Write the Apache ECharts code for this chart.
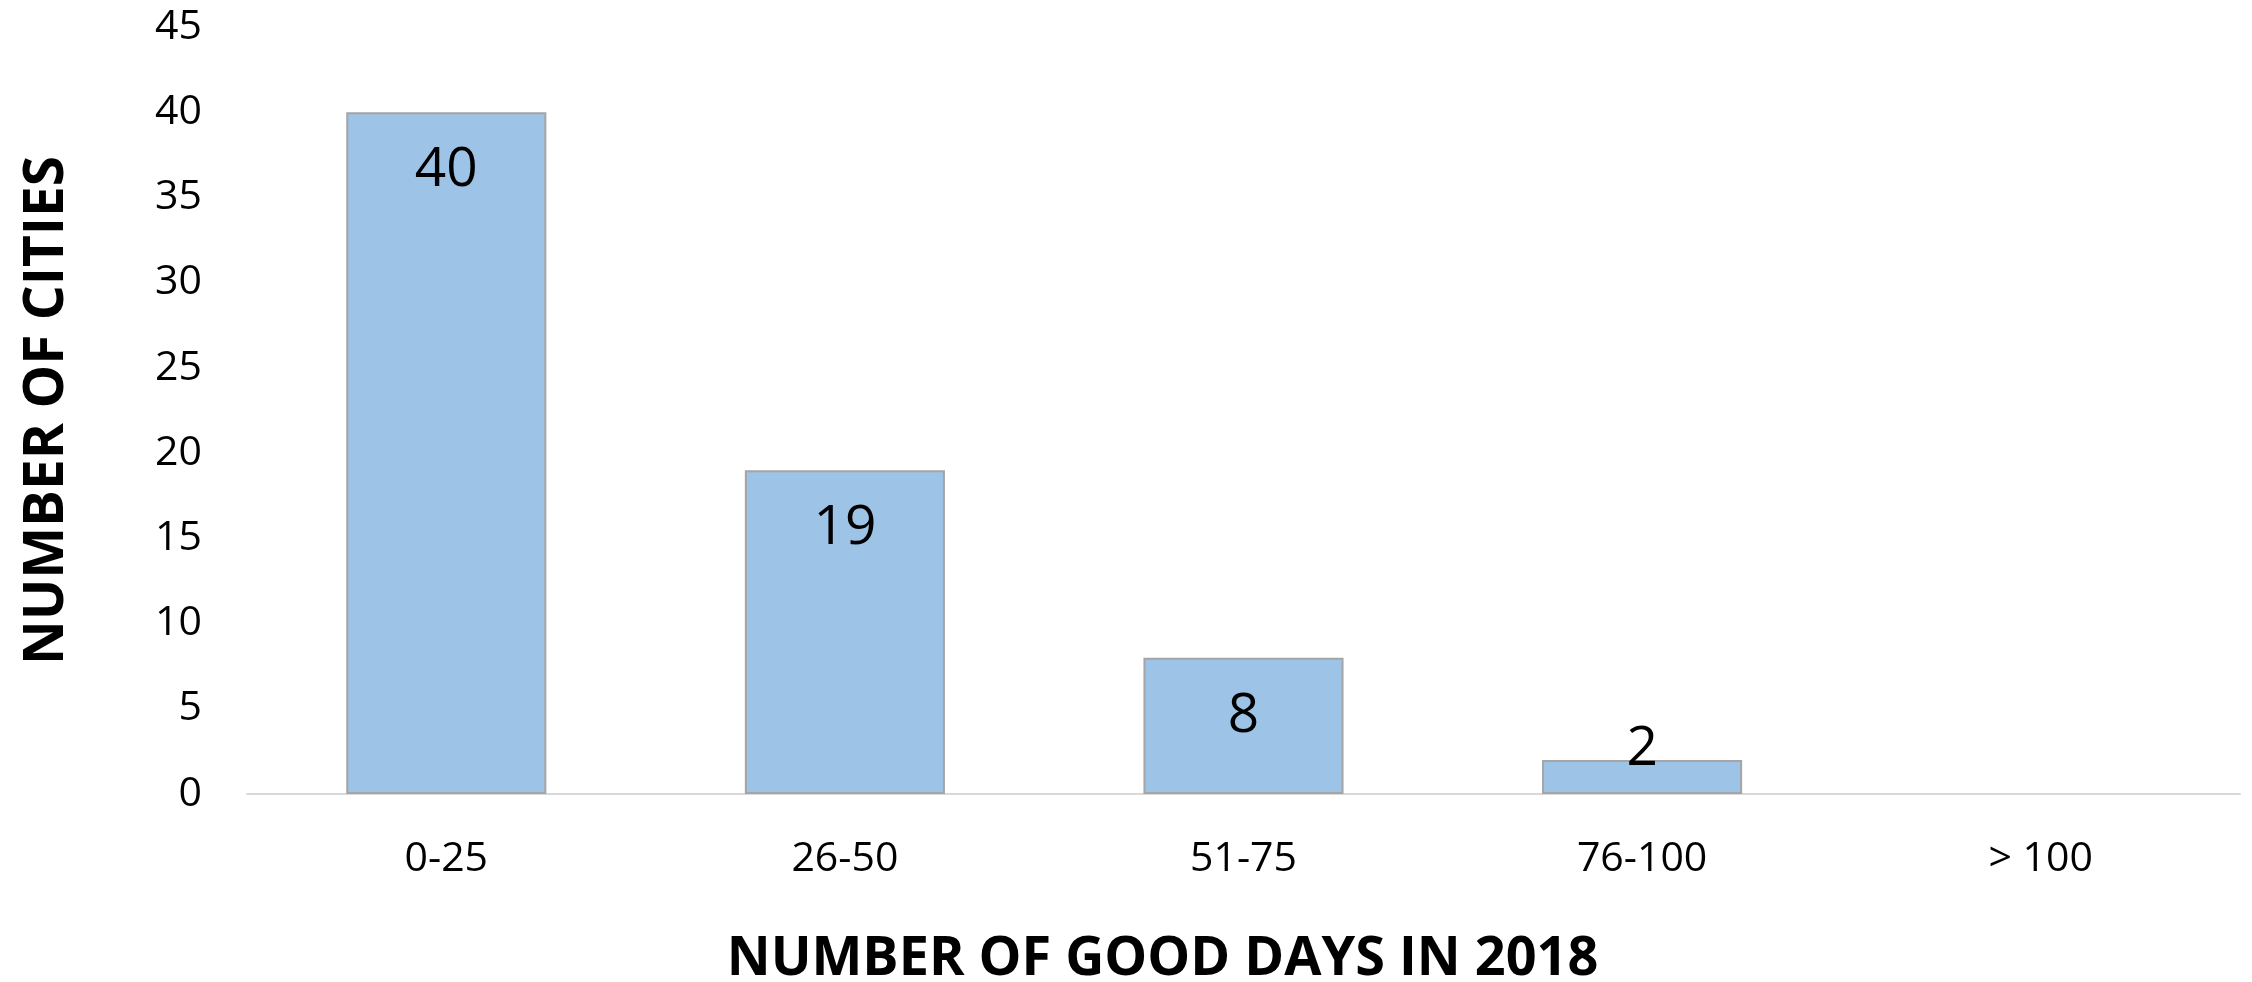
<!DOCTYPE html>
<html>
<head>
<meta charset="utf-8">
<script src="https://cdn.jsdelivr.net/npm/echarts@6/dist/echarts.min.js"></script>
<style>
html,body{margin:0;padding:0;background:#fff;}
#chart{width:2252px;height:982px;}
</style>
</head>
<body>
<div id="chart"></div>
<script>
const categories = ['0-25', '26-50', '51-75', '76-100', '> 100'];
const cityCounts = [40, 19, 8, 2, 0];
const yTicks = [0, 5, 10, 15, 20, 25, 30, 35, 40, 45];
const xAxisTitle = 'NUMBER OF GOOD DAYS IN 2018';
const yAxisTitle = 'NUMBER OF CITIES';

const FONT = "'Open Sans', 'Noto Sans', sans-serif";

const barData = cityCounts.map(function (v) {
  const item = { value: v };
  if (v > 0 && v < 5) {
    item.label = { position: 'insideBottom', distance: 17 };
  }
  if (v === 0) {
    item.itemStyle = { borderWidth: 0 };
  }
  return item;
});

const chart = echarts.init(document.getElementById('chart'), null, { renderer: 'canvas' });
chart.setOption({
  animation: false,
  backgroundColor: '#ffffff',
  grid: { left: 247, right: 12, top: 27, bottom: 188, containLabel: false, outerBoundsMode: 'none' },
  xAxis: {
    type: 'category',
    data: categories,
    axisLine: { show: true, lineStyle: { color: '#D9D9D9', width: 2 } },
    axisTick: { show: false },
    axisLabel: { color: '#000', fontFamily: FONT, fontSize: 41, margin: 45 },
    name: xAxisTitle,
    nameLocation: 'middle',
    nameGap: 139,
    nameTextStyle: { color: '#000', fontFamily: FONT, fontSize: 54, fontWeight: 'bold', padding: [0, 162, 0, 0] }
  },
  yAxis: {
    type: 'value',
    min: yTicks[0],
    max: yTicks[yTicks.length - 1],
    interval: yTicks[1] - yTicks[0],
    axisLine: { show: false },
    axisTick: { show: false },
    splitLine: { show: false },
    axisLabel: { color: '#000', fontFamily: FONT, fontSize: 41, margin: 45 },
    name: yAxisTitle,
    nameLocation: 'middle',
    nameRotate: 90,
    nameGap: 172,
    nameTextStyle: { color: '#000', fontFamily: FONT, fontSize: 55, fontWeight: 'bold' }
  },
  series: [{
    type: 'bar',
    data: barData,
    barWidth: '50.2%',
    itemStyle: { color: '#9DC3E6', borderColor: '#A5A5A5', borderWidth: 2 },
    label: {
      show: true,
      position: 'insideTop',
      distance: 31,
      color: '#000',
      fontFamily: FONT,
      fontSize: 55,
      formatter: function (p) { return p.value > 0 ? String(p.value) : ''; }
    }
  }]
});
</script>
</body>
</html>
